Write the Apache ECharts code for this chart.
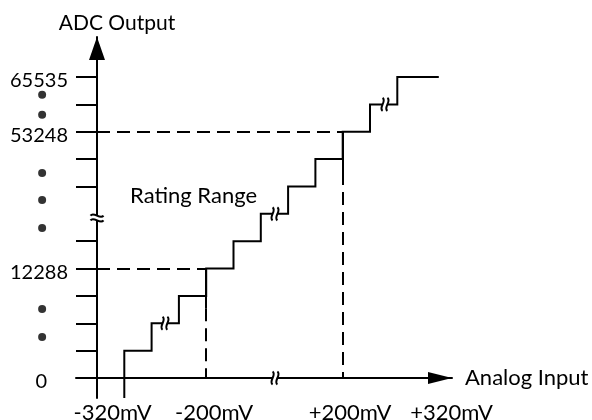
<!DOCTYPE html>
<html>
<head>
<meta charset="utf-8">
<script src="https://cdn.jsdelivr.net/npm/echarts@6/dist/echarts.min.js"></script>
<style>
html, body { margin: 0; padding: 0; background: #fff; }
#main { width: 592px; height: 420px; }
</style>
</head>
<body>
<div id="main"></div>
<script>
// x in code steps (0 = -320mV), y in output levels (0 = code 0)
const yTickLevels = [0, 1, 2, 3, 4, 5, 7, 8, 9, 10, 11];
const yLabelLevels = [0, 4, 9, 11];
const yLabelText = ["0", "12288", "53248", "65535"];
const xLabelPos = [0.57, 4.29, 9.27, 12.99];
const xLabelText = ["-320mV", "-200mV", "+200mV", "+320mV"];
const stepEdges = [1, 2, 3, 4, 5, 6, 7, 8, 9, 10, 11];
const stepLevels = [1, 2, 3, 4, 5, 6, 7, 8, 9, 10, 11];
const stepStart = -0.73;
const stepEnd = 12.52;
const markX = [4, 9];
const markLevel = [4, 9];
const markSolidTo = [2.55, 7.53];
const dotX = -2.01;
const dotLevels = [10.35, 9.62, 7.49, 6.51, 5.48, 2.52, 1.5];
// [x, y, vertical?]
const breaks = [[2.49, 2, 0], [6.52, 6, 0], [10.55, 10, 0], [6.52, 0, 0], [0, 5.85, 1]];
const noteText = "Rating Range";
const notePos = [1.21, 6.65];

// pixel layout of the drawing
const PX = 27.3, PY = 27.36, OX = 97, OY = 378;
const FONT = "Lato";

// staircase corners
const stairs = [[stepEdges[0], stepStart]];
stepEdges.forEach((x, i) => {
  if (i > 0) stairs.push([x, stepLevels[i - 1]]);
  stairs.push([x, stepLevels[i]]);
});
stairs.push([stepEnd, stepLevels[stepLevels.length - 1]]);

const solidSegs = markX.map((x, i) => ({ coords: [[x, markLevel[i]], [x, markSolidTo[i]]] }));
const dashSegs = [];
markX.forEach((x, i) => {
  dashSegs.push({ coords: [[0, markLevel[i]], [x, markLevel[i]]] });
  dashSegs.push({ coords: [[x, markSolidTo[i]], [x, 0]] });
});

const option = {
  animation: false,
  backgroundColor: "#fff",
  grid: { left: 76, top: 37, width: 376, height: 361, containLabel: false, outerBoundsMode: "none" },
  xAxis: {
    type: "value",
    min: (76 - OX) / PX,
    max: (452 - OX) / PX,
    name: "Analog Input",
    nameLocation: "end",
    nameGap: 13,
    nameTextStyle: { fontFamily: FONT, fontSize: 22, color: "#000", verticalAlign: "middle" },
    axisLine: {
      onZero: true,
      symbol: ["none", "triangle"],
      symbolSize: [12, 24],
      symbolOffset: [0, -12],
      lineStyle: { color: "#000", width: 2 },
    },
    axisTick: { show: false },
    splitLine: { show: false },
    axisLabel: {
      customValues: xLabelPos,
      margin: 4,
      fontFamily: FONT,
      fontSize: 22,
      color: "#000",
      formatter: (v) => xLabelText[xLabelPos.indexOf(v)] || "",
    },
  },
  yAxis: {
    type: "value",
    min: (OY - 398) / PY,
    max: (OY - 37) / PY,
    name: "ADC Output",
    nameLocation: "end",
    nameGap: 3,
    nameTextStyle: { fontFamily: FONT, fontSize: 21, color: "#000", padding: [0, 0, 0, 40] },
    axisLine: {
      onZero: true,
      symbol: ["none", "triangle"],
      symbolSize: [16, 23],
      symbolOffset: [0, -11.5],
      lineStyle: { color: "#000", width: 2 },
    },
    axisTick: {
      customValues: yTickLevels,
      length: 21,
      lineStyle: { color: "#000", width: 2 },
    },
    splitLine: { show: false },
    axisLabel: {
      customValues: yLabelLevels,
      margin: 8,
      padding: [8, 0, 0, 0],
      fontFamily: FONT,
      fontSize: 20,
      color: "#000",
      formatter: (v) => {
        const t = yLabelText[yLabelLevels.indexOf(v)] || "";
        return v === 0 ? "{z|" + t + "}" : t;
      },
      rich: { z: { fontFamily: FONT, fontSize: 20, color: "#000", padding: [0, 21, 0, 0] } },
    },
  },
  series: [
    {
      type: "line",
      data: stairs,
      showSymbol: false,
      silent: true,
      clip: false,
      lineStyle: { color: "#000", width: 2, join: "miter" },
    },
    {
      type: "lines",
      coordinateSystem: "cartesian2d",
      data: solidSegs,
      silent: true,
      lineStyle: { color: "#000", width: 2, opacity: 1 },
    },
    {
      type: "lines",
      coordinateSystem: "cartesian2d",
      data: dashSegs,
      silent: true,
      lineStyle: { color: "#000", width: 2, opacity: 1, type: [13, 7] },
    },
    {
      type: "scatter",
      data: dotLevels.map((l) => [dotX, l]),
      symbolSize: 8,
      clip: false,
      silent: true,
      itemStyle: { color: "#000" },
    },
    {
      type: "custom",
      data: breaks,
      clip: false,
      silent: true,
      z: 5,
      encode: { x: 0, y: 1 },
      renderItem: (params, api) => {
        const p = api.coord([api.value(0), api.value(1)]);
        const h = 6.5, g = 2.4;
        const children = [
          { type: "rect", shape: { x: -g, y: -2.5, width: 2 * g, height: 5 }, style: { fill: "#fff" } },
        ];
        [-g, g].forEach((d) => {
          children.push({
            type: "bezierCurve",
            shape: { x1: d, y1: -h, x2: d, y2: h, cpx1: d + 4.5, cpy1: -h / 2, cpx2: d - 4.5, cpy2: h / 2 },
            style: { stroke: "#000", lineWidth: 2, fill: null },
          });
        });
        return { type: "group", x: p[0], y: p[1], rotation: api.value(2) ? Math.PI / 2 : 0, children };
      },
    },
    {
      type: "custom",
      data: [notePos],
      clip: false,
      silent: true,
      encode: { x: 0, y: 1 },
      renderItem: (params, api) => {
        const p = api.coord([api.value(0), api.value(1)]);
        return {
          type: "text",
          x: p[0],
          y: p[1],
          style: { text: noteText, fontFamily: FONT, fontSize: 22, fill: "#000", verticalAlign: "middle" },
        };
      },
    },
  ],
};

const myChart = echarts.init(document.getElementById("main"));
myChart.setOption(option);
</script>
</body>
</html>
